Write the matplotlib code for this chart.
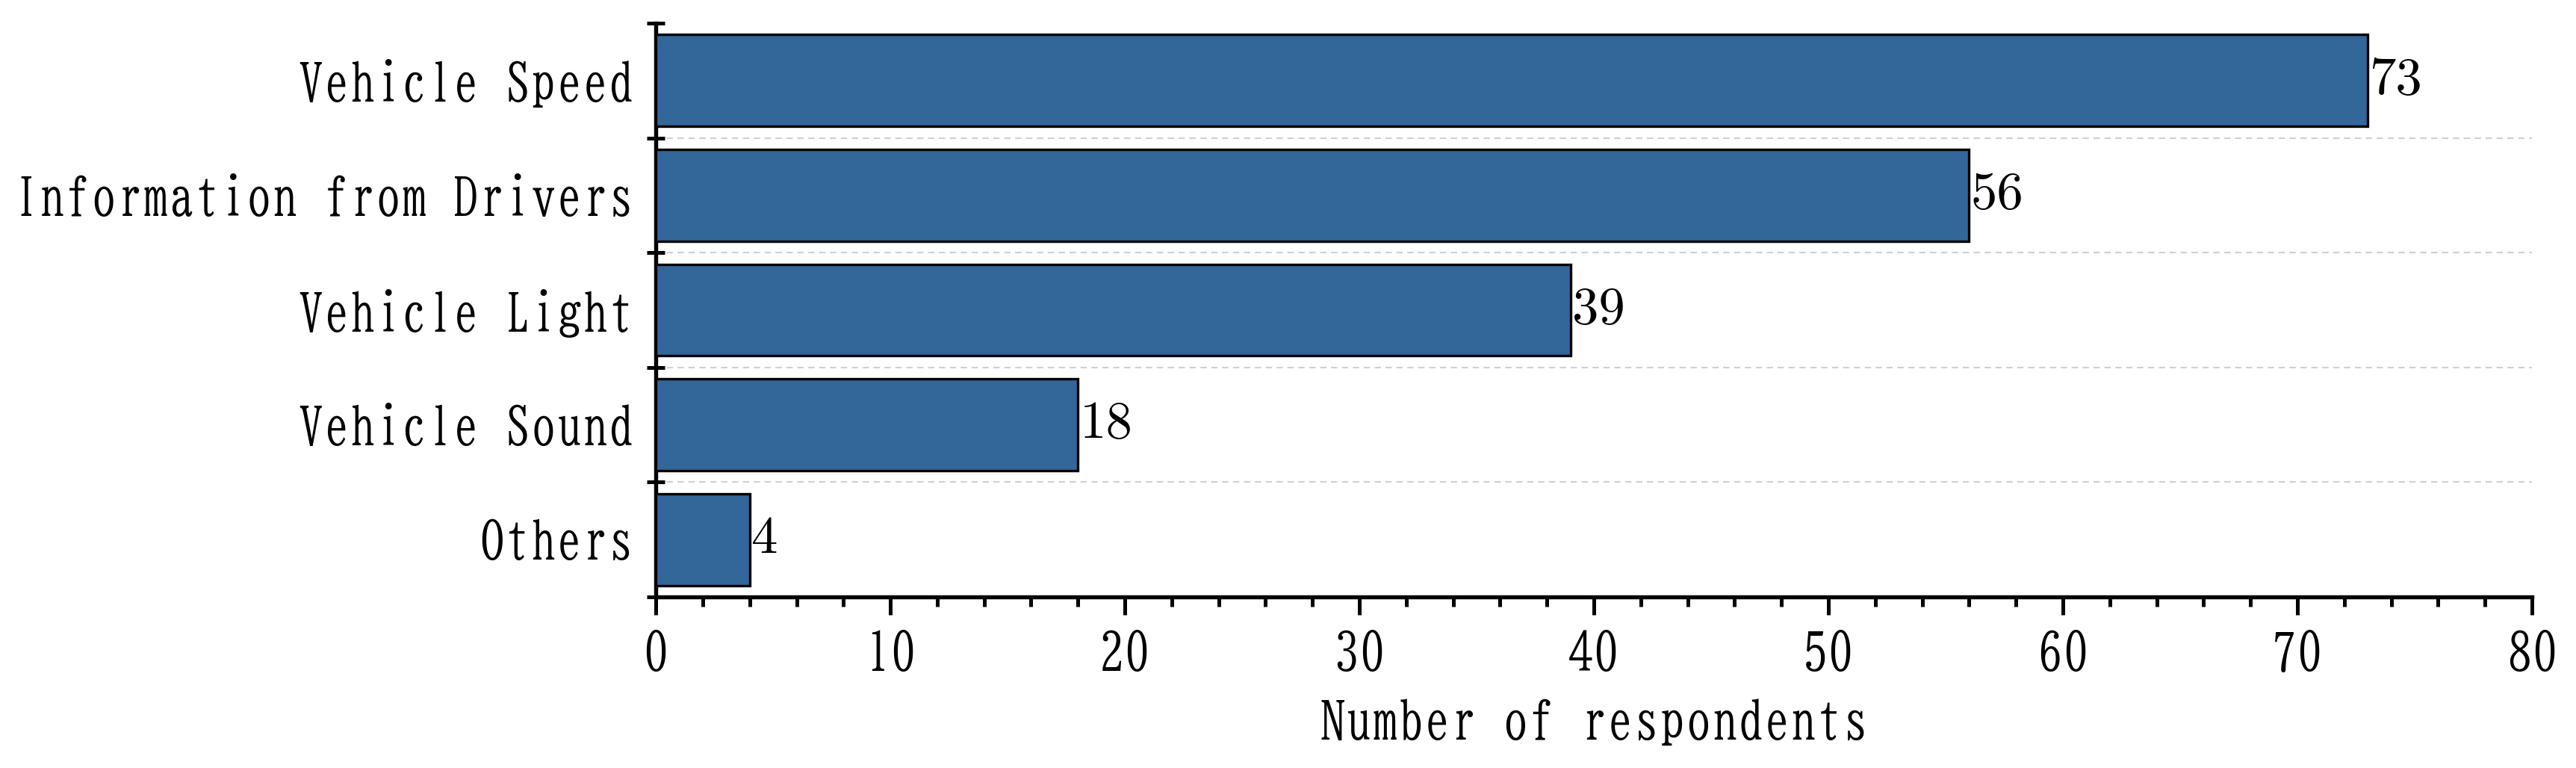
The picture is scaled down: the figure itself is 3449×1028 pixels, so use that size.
import matplotlib
matplotlib.use("Agg")
import matplotlib.pyplot as plt
from matplotlib.ticker import MultipleLocator

categories = ['Others', 'Vehicle Sound', 'Vehicle Light', 'Information from Drivers', 'Vehicle Speed']
counts = [4, 18, 39, 56, 73]
x_ticks = [0, 10, 20, 30, 40, 50, 60, 70, 80]

plt.rcParams['font.family'] = ['BIZ UDMincho', 'DejaVu Serif']

fig = plt.figure(figsize=(3449 / 300, 1028 / 300), dpi=300)
ax = fig.add_axes([0.2546, 0.2228, 0.9829 - 0.2546, 0.9698 - 0.2228])

ypos = list(range(len(categories)))
bars = ax.barh(ypos, counts, height=0.8, color='#336699', edgecolor='black', linewidth=0.8, zorder=3)

for y, v in zip(ypos, counts):
    ax.annotate(str(v), (v, y), xytext=(0.5, 0), textcoords='offset points',
                ha='left', va='center', fontsize=17, family='cmr10', zorder=4)

# dashed grid between the categories
for b in range(len(categories) - 1):
    ax.axhline(b + 0.5, color='#d0d0d0', linestyle='--', linewidth=0.5, dashes=(4, 3), zorder=1)

ax.set_xlim(0, 80)
ax.set_ylim(-0.5, len(categories) - 0.5)
ax.set_xticks(x_ticks)
ax.xaxis.set_minor_locator(MultipleLocator(2))
ax.set_yticks(ypos)
ax.set_yticklabels(categories)
ax.set_yticks([b - 0.5 for b in range(len(categories) + 1)], minor=True)

ax.tick_params(axis='y', which='major', length=0, pad=7, labelsize=16.6)
ax.tick_params(axis='y', which='minor', direction='inout', length=5.8, width=1.2)
ax.tick_params(axis='x', which='major', direction='out', length=5.8, width=1.2, pad=5, labelsize=16.8)
ax.tick_params(axis='x', which='minor', direction='out', length=3, width=1.2)

for s in ['top', 'right']:
    ax.spines[s].set_visible(False)
for s in ['left', 'bottom']:
    ax.spines[s].set_linewidth(1.3)

ax.set_xlabel('Number of respondents', fontsize=16.8, labelpad=7)

fig.savefig('out.png', dpi=300)
